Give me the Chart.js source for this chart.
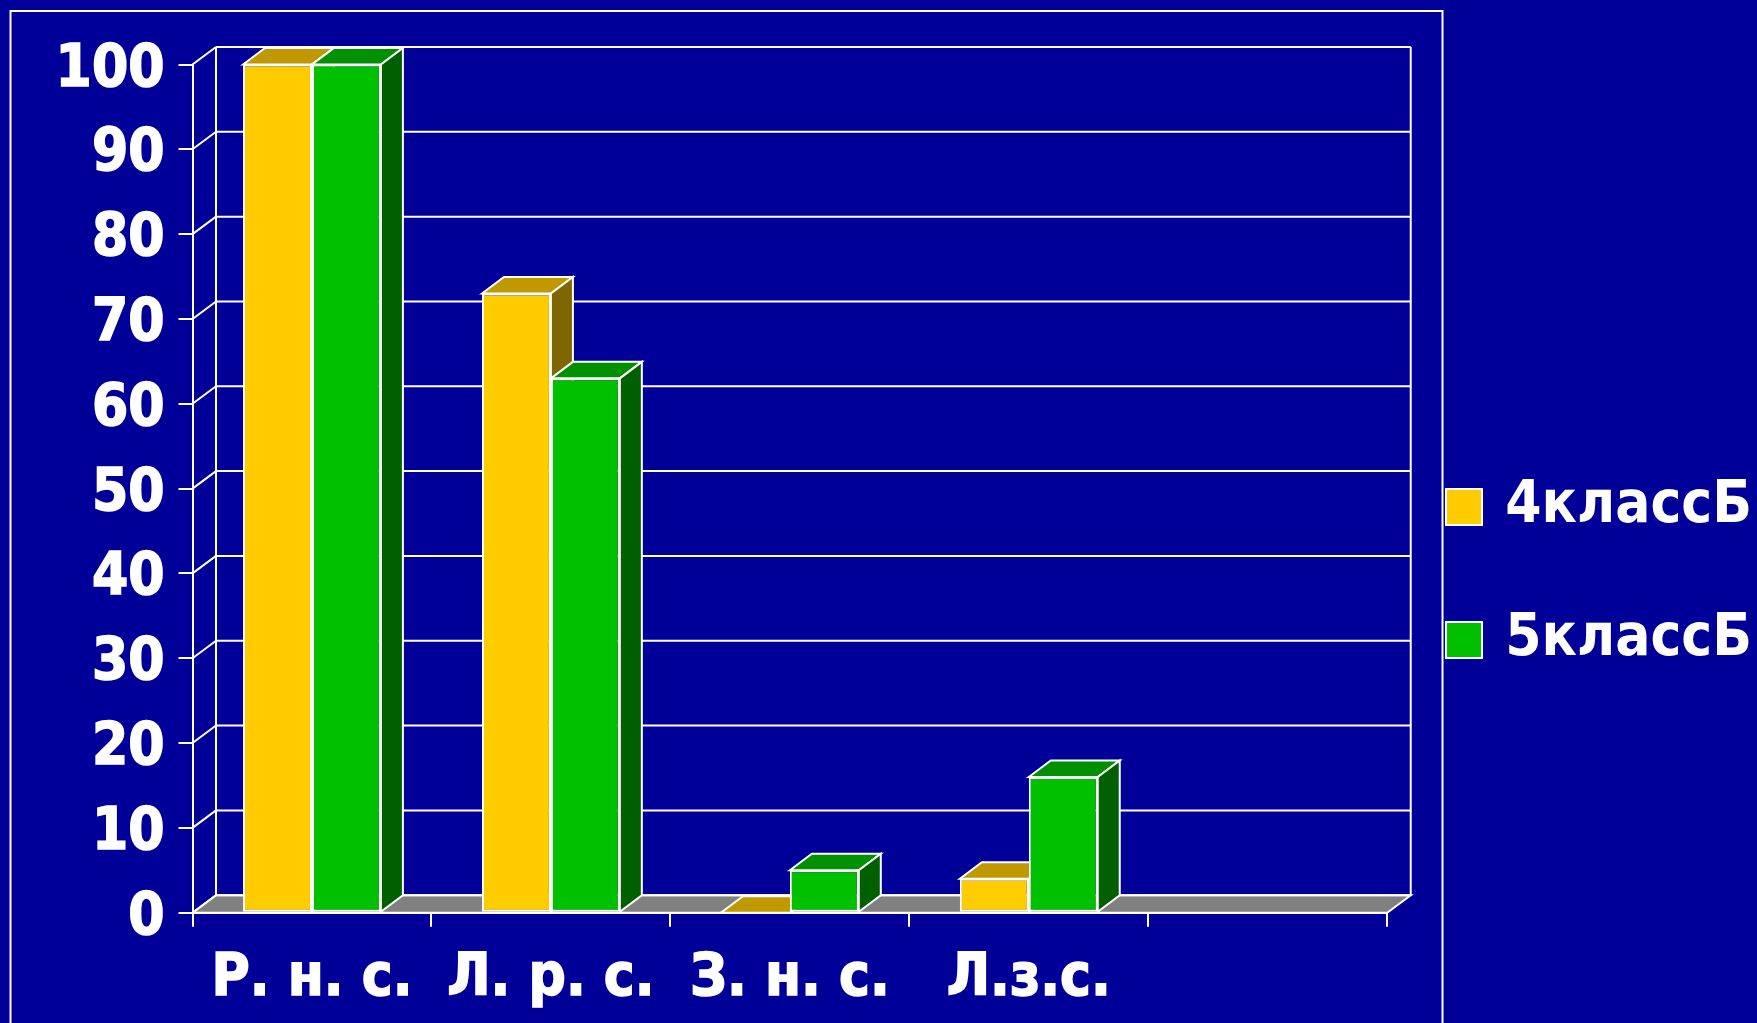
<!DOCTYPE html>
<html>
<head>
<meta charset="utf-8">
<script src="https://cdn.jsdelivr.net/npm/chart.js@4"></script>
<style>
html,body{margin:0;padding:0;background:#000099;overflow:hidden}
canvas{display:block}
</style>
</head>
<body>
<canvas id="c" width="1757" height="1023"></canvas>
<script>
const categories = ['Р. н. с.', 'Л. р. с.', 'З. н. с.', 'Л.з.с.', ''];
const series4 = [100, 73, 0, 4, null];
const series5 = [100, 63, 5, 16, null];
const seriesNames = ['4классБ', '5классБ'];
const yTicks = [0, 10, 20, 30, 40, 50, 60, 70, 80, 90, 100];

const WHITE = '#ffffff';
const FONT = "'DejaVu Sans Condensed','DejaVu Sans'";
const WALL = {dx: 23.5, dy: 17.5};
const BAR = {dx: 22, dy: 16.5};
const FACES = [{top: '#c09900', side: '#806600'}, {top: '#009000', side: '#006000'}];

function poly(ctx, pts, fill) {
  ctx.beginPath();
  pts.forEach((p, i) => i ? ctx.lineTo(p[0], p[1]) : ctx.moveTo(p[0], p[1]));
  ctx.closePath();
  if (fill) { ctx.fillStyle = fill; ctx.fill(); }
  ctx.stroke();
}
function line(ctx, x1, y1, x2, y2) {
  ctx.beginPath(); ctx.moveTo(x1, y1); ctx.lineTo(x2, y2); ctx.stroke();
}

const box3d = {
  id: 'box3d',
  beforeDatasetsDraw(chart) {
    const ctx = chart.ctx, a = chart.chartArea, y = chart.scales.y;
    const L = a.left, R = a.right, B = y.getPixelForValue(0), T = y.getPixelForValue(100);
    ctx.save();
    ctx.strokeStyle = WHITE;
    ctx.lineWidth = 2;
    // slide frame
    ctx.strokeRect(10.5, 11, 1432, 1100);
    // floor
    poly(ctx, [[L, B], [L + WALL.dx, B - WALL.dy], [R + WALL.dx, B - WALL.dy], [R, B]], '#808080');
    // walls
    line(ctx, L + WALL.dx, T - WALL.dy, L + WALL.dx, B - WALL.dy);
    line(ctx, R + WALL.dx, T - WALL.dy, R + WALL.dx, B - WALL.dy);
    yTicks.forEach(v => {
      const p = y.getPixelForValue(v);
      line(ctx, L, p, L + WALL.dx, p - WALL.dy);
      line(ctx, L + WALL.dx, p - WALL.dy, R + WALL.dx, p - WALL.dy);
    });
    // box tops and sides, first series first so the second overlaps it
    chart.data.datasets.forEach((ds, i) => {
      chart.getDatasetMeta(i).data.forEach((bar, j) => {
        if (ds.data[j] === null) return;
        const l = bar.x - bar.width / 2, r = bar.x + bar.width / 2, t = bar.y, b = bar.base;
        poly(ctx, [[l, t], [l + BAR.dx, t - BAR.dy], [r + BAR.dx, t - BAR.dy], [r, t]], FACES[i].top);
        poly(ctx, [[r, t], [r + BAR.dx, t - BAR.dy], [r + BAR.dx, b - BAR.dy], [r, b]], FACES[i].side);
      });
    });
    ctx.restore();
  },
  afterLayout(chart) {
    // legend sits in the right margin of the slide
    const lg = chart.legend;
    lg.left = 1371; lg.right = 1752; lg.top = 403; lg.bottom = 760;
    lg.width = lg.right - lg.left; lg.height = lg.bottom - lg.top;
  }
};

new Chart(document.getElementById('c'), {
  type: 'bar',
  data: {
    labels: categories,
    datasets: [
      {label: seriesNames[0], data: series4, backgroundColor: '#ffcc00', borderColor: WHITE, borderWidth: 2, borderSkipped: false},
      {label: seriesNames[1], data: series5, backgroundColor: '#00c000', borderColor: WHITE, borderWidth: 2, borderSkipped: false}
    ]
  },
  plugins: [box3d],
  options: {
    responsive: false,
    animation: false,
    devicePixelRatio: 1,
    categoryPercentage: 0.577,
    barPercentage: 1,
    layout: {padding: {top: 64.5, left: 0, right: -27, bottom: 0}},
    plugins: {
      title: {display: false},
      tooltip: {enabled: false},
      legend: {
        display: true,
        position: 'right',
        align: 'start',
        labels: {
          boxWidth: 36, boxHeight: 36, padding: 75, color: WHITE, textAlign: 'right',
          font: {family: FONT, size: 58, weight: 'bold'}
        }
      }
    },
    scales: {
      x: {
        afterFit(s) { s.height = 110.3; },
        grid: {display: true, drawOnChartArea: false, drawTicks: true, tickLength: 14, color: WHITE, lineWidth: 2},
        border: {display: true, color: WHITE, width: 2},
        ticks: {color: WHITE, padding: 18, maxRotation: 0, autoSkip: false, textStrokeColor: WHITE, textStrokeWidth: 1.5, font: {family: FONT, size: 58, weight: 'bold'}}
      },
      y: {
        min: 0, max: 100,
        afterFit(s) { s.width = 192.5; },
        grid: {display: true, drawOnChartArea: false, drawTicks: true, tickLength: 14, color: WHITE, lineWidth: 2},
        border: {display: true, color: WHITE, width: 2},
        ticks: {stepSize: 10, color: WHITE, padding: 14, labelOffset: 6, textStrokeColor: WHITE, textStrokeWidth: 1.5, font: {family: FONT, size: 58, weight: 'bold'}}
      }
    }
  }
});
</script>
</body>
</html>
